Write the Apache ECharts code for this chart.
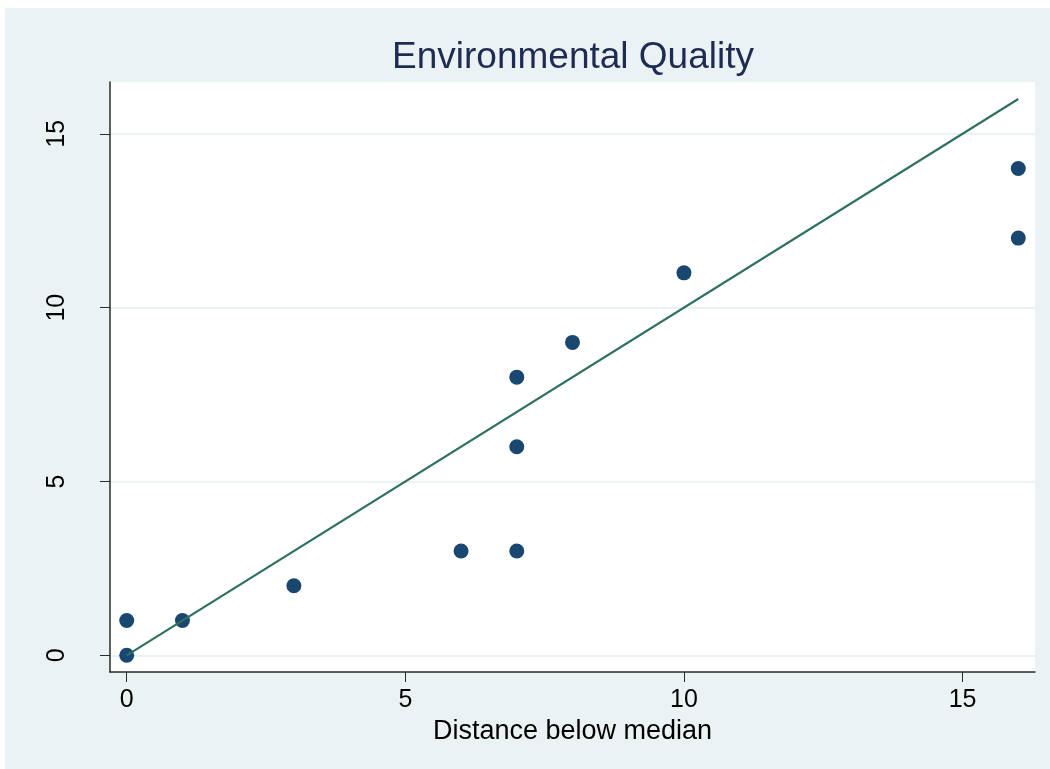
<!DOCTYPE html>
<html>
<head>
<meta charset="utf-8">
<script src="https://cdn.jsdelivr.net/npm/echarts@6/dist/echarts.min.js"></script>
<style>
html,body{margin:0;padding:0;background:#fff;}
#c{width:1050px;height:769px;}
</style>
</head>
<body>
<div id="c"></div>
<script>
// Data
var xValues = [0, 0, 1, 3, 6, 7, 7, 7, 8, 10, 16, 16];
var yValues = [0, 1, 1, 2, 3, 3, 6, 8, 9, 11, 12, 14];
var lineX = [0, 16];
var lineY = [0, 16];
var xTicks = [0, 5, 10, 15];
var yTicks = [0, 5, 10, 15];
var titleText = 'Environmental Quality';
var xTitle = 'Distance below median';

var points = xValues.map(function (x, i) { return [x, yValues[i]]; });
var linePts = lineX.map(function (x, i) { return [x, lineY[i]]; });

var font = 'Liberation Sans, Arial, sans-serif';
var chart = echarts.init(document.getElementById('c'), null, {renderer: 'canvas'});
chart.setOption({
  backgroundColor: '#EAF2F3',
  animation: false,
  graphic: [
    {type: 'rect', shape: {x: 0, y: 0, width: 1050, height: 8}, style: {fill: '#fff'}, silent: true},
    {type: 'rect', shape: {x: 0, y: 0, width: 5, height: 769}, style: {fill: '#fff'}, silent: true}
  ],
  title: {
    text: titleText,
    left: 568,
    textAlign: 'center',
    top: 34,
    textStyle: {fontFamily: font, fontSize: 37, fontWeight: 'normal', color: '#1e2b52'}
  },
  grid: {
    left: 110, right: 15, top: 82, bottom: 97,
    show: true, backgroundColor: '#ffffff', borderWidth: 0
  },
  xAxis: {
    type: 'value',
    min: -0.3, max: 16.3,
    name: xTitle,
    nameLocation: 'middle',
    nameGap: 43,
    nameTextStyle: {fontFamily: font, fontSize: 27, color: '#000'},
    axisLine: {show: true, onZero: false, lineStyle: {color: '#2a2a2a', width: 1.5}},
    axisTick: {show: true, length: 10, customValues: xTicks, lineStyle: {color: '#2a2a2a', width: 1}},
    axisLabel: {customValues: xTicks, fontFamily: font, fontSize: 25, color: '#000', margin: 16},
    splitLine: {show: false}
  },
  yAxis: {
    type: 'value',
    min: -0.48, max: 16.49,
    axisLine: {show: true, onZero: false, lineStyle: {color: '#2a2a2a', width: 1.5}},
    axisTick: {show: true, length: 10, customValues: yTicks, lineStyle: {color: '#2a2a2a', width: 1}},
    axisLabel: {customValues: yTicks, rotate: 90, fontFamily: font, fontSize: 25, color: '#000', margin: 40},
    splitLine: {show: true, lineStyle: {color: '#EAF2F3', width: 2}}
  },
  series: [
    {
      type: 'scatter',
      data: points,
      symbol: 'circle',
      symbolSize: 15,
      itemStyle: {color: '#1a476f', opacity: 1},
      z: 2
    },
    {
      type: 'line',
      data: linePts,
      showSymbol: false,
      symbol: 'none',
      lineStyle: {color: '#2e7163', width: 2.2},
      z: 3
    }
  ]
});
</script>
</body>
</html>
